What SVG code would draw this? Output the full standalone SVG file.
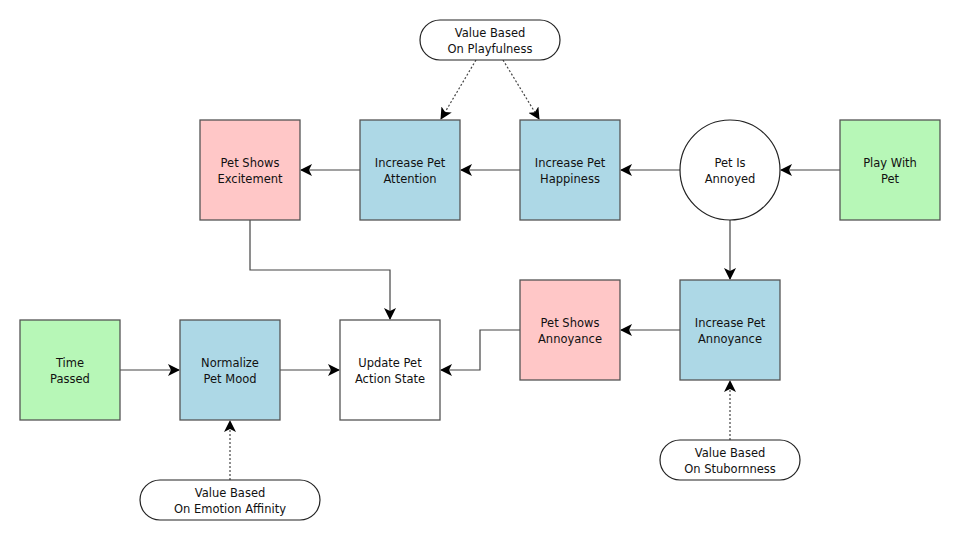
<svg xmlns="http://www.w3.org/2000/svg" width="961" height="541" viewBox="0 0 961 541">
<style>
text{font-family:"DejaVu Sans","Liberation Sans",sans-serif;font-size:11.5px;fill:#111;text-anchor:middle}
.b{stroke:#555;stroke-width:1.3}
.blue{fill:#add8e6}.pink{fill:#ffc7c7}.green{fill:#b7f7b7}.white{fill:#fff}
.c{fill:none;stroke:#444;stroke-width:1.2}
.d{fill:none;stroke:#444;stroke-width:1.2;stroke-dasharray:2 2}
.o{fill:#fff;stroke:#222;stroke-width:1.2}
</style>
<defs>
<marker id="a" viewBox="0 0 12 12" refX="11" refY="6" markerWidth="12" markerHeight="12" markerUnits="userSpaceOnUse" orient="auto">
<path d="M0,0 L12,6 L0,12 L3,6 Z" fill="#000"/>
</marker>
</defs>
<g id="connectors">
<line class="c" x1="840" y1="170" x2="781" y2="170" marker-end="url(#a)"/>
<line class="c" x1="680" y1="170" x2="621" y2="170" marker-end="url(#a)"/>
<line class="c" x1="520" y1="170" x2="461" y2="170" marker-end="url(#a)"/>
<line class="c" x1="360" y1="170" x2="301" y2="170" marker-end="url(#a)"/>
<polyline class="c" points="250,220 250,270 390,270 390,319" marker-end="url(#a)"/>
<line class="c" x1="730" y1="220" x2="730" y2="279" marker-end="url(#a)"/>
<line class="c" x1="680" y1="330" x2="621" y2="330" marker-end="url(#a)"/>
<polyline class="c" points="520,330 480,330 480,370 441,370" marker-end="url(#a)"/>
<line class="c" x1="120" y1="370" x2="179" y2="370" marker-end="url(#a)"/>
<line class="c" x1="280" y1="370" x2="339" y2="370" marker-end="url(#a)"/>
<line class="d" x1="230" y1="480" x2="230" y2="421" marker-end="url(#a)"/>
<line class="d" x1="730" y1="440" x2="730" y2="381" marker-end="url(#a)"/>
<line class="d" x1="476" y1="60" x2="441" y2="119" marker-end="url(#a)"/>
<line class="d" x1="503" y1="60" x2="539" y2="119" marker-end="url(#a)"/>
</g>
<g id="excitement"><rect class="b pink" x="200" y="120" width="100" height="100"/><text x="250" y="167">Pet Shows</text><text x="250" y="183">Excitement</text></g>
<g id="attention"><rect class="b blue" x="360" y="120" width="100" height="100"/><text x="410" y="167">Increase Pet</text><text x="410" y="183">Attention</text></g>
<g id="happiness"><rect class="b blue" x="520" y="120" width="100" height="100"/><text x="570" y="167">Increase Pet</text><text x="570" y="183">Happiness</text></g>
<g id="annoyed"><circle class="o" cx="730" cy="170" r="50"/><text x="730" y="167">Pet Is</text><text x="730" y="183">Annoyed</text></g>
<g id="play"><rect class="b green" x="840" y="120" width="100" height="100"/><text x="890" y="167">Play With</text><text x="890" y="183">Pet</text></g>
<g id="showsAnnoyance"><rect class="b pink" x="520" y="280" width="100" height="100"/><text x="570" y="327">Pet Shows</text><text x="570" y="343">Annoyance</text></g>
<g id="incAnnoyance"><rect class="b blue" x="680" y="280" width="100" height="100"/><text x="730" y="327">Increase Pet</text><text x="730" y="343">Annoyance</text></g>
<g id="time"><rect class="b green" x="20" y="320" width="100" height="100"/><text x="70" y="367">Time</text><text x="70" y="383">Passed</text></g>
<g id="normalize"><rect class="b blue" x="180" y="320" width="100" height="100"/><text x="230" y="367">Normalize</text><text x="230" y="383">Pet Mood</text></g>
<g id="update"><rect class="b white" x="340" y="320" width="100" height="100"/><text x="390" y="367">Update Pet</text><text x="390" y="383">Action State</text></g>
<g id="playfulness"><rect class="o" x="420" y="20" width="140" height="40" rx="20"/><text x="490" y="37">Value Based</text><text x="490" y="53">On Playfulness</text></g>
<g id="stubbornness"><rect class="o" x="660" y="440" width="140" height="40" rx="20"/><text x="730" y="457">Value Based</text><text x="730" y="473">On Stubornness</text></g>
<g id="affinity"><rect class="o" x="140" y="480" width="180" height="40" rx="20"/><text x="230" y="497">Value Based</text><text x="230" y="513">On Emotion Affinity</text></g>
</svg>
